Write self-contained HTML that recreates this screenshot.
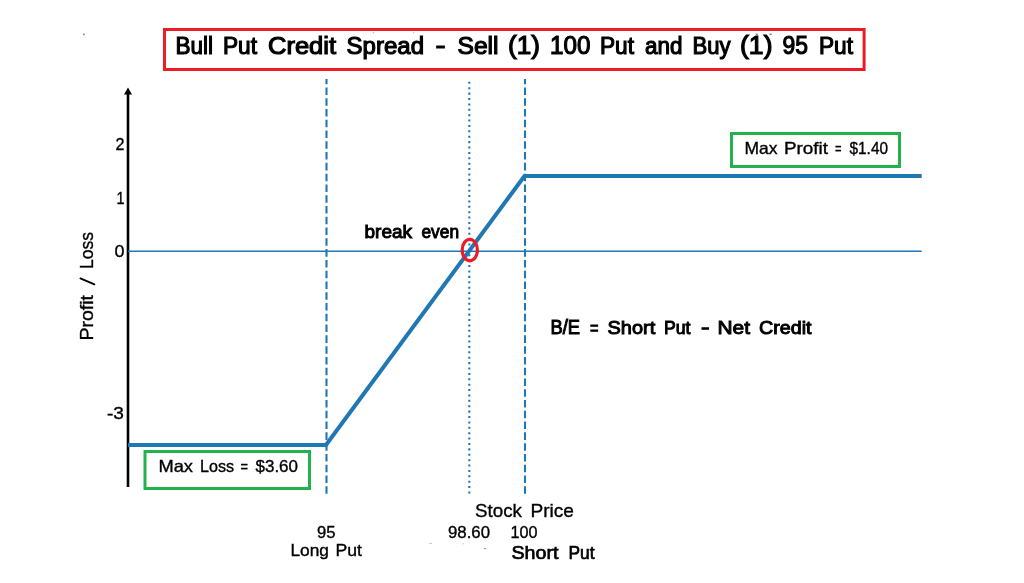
<!DOCTYPE html>
<html><head><meta charset="utf-8">
<style>
html,body{margin:0;padding:0;background:#fff;width:1024px;height:583px;overflow:hidden}
svg{display:block}
text{font-family:"Liberation Sans",sans-serif;fill:#000;stroke:#000;stroke-width:0.35px}
.b{stroke-width:0.85px}
svg{will-change:transform}

</style></head><body>
<svg width="1024" height="583" viewBox="0 0 1024 583">
<rect x="0" y="0" width="1024" height="583" fill="#fff"/>
<rect x="83" y="33.5" width="1.6" height="1.6" fill="#888"/>
<rect x="755.8" y="33.6" width="2" height="1.3" fill="#777"/>
<rect x="769.5" y="33.6" width="2.2" height="1.3" fill="#777"/>
<rect x="372.8" y="32" width="1.2" height="1.2" fill="#bbb"/>
<rect x="413" y="32" width="1.2" height="1.2" fill="#bbb"/>
<rect x="429" y="543" width="3" height="1" fill="#ccc"/>
<rect x="462.5" y="543.3" width="1.5" height="1" fill="#ccc"/>
<rect x="484" y="548" width="2" height="1.2" fill="#999"/>
<rect x="164.5" y="29.5" width="699.6" height="40" fill="none" stroke="#ed1c24" stroke-width="3"/>
<line x1="128" y1="93" x2="128" y2="487" stroke="#000" stroke-width="2.6"/>
<polygon points="128,87.5 124,94.5 132,94.5" fill="#000"/>
<line x1="128" y1="251.2" x2="921.7" y2="251.2" stroke="#1f77b4" stroke-width="1.5"/>
<line x1="326.5" y1="493.8" x2="326.5" y2="79" stroke="#1f77b4" stroke-width="2.1" stroke-dasharray="7.53 3.25"/>
<line x1="525" y1="493.8" x2="525" y2="79" stroke="#1f77b4" stroke-width="2.1" stroke-dasharray="7.53 3.25"/>
<line x1="469.3" y1="493.5" x2="469.3" y2="79" stroke="#1f77b4" stroke-width="2.1" stroke-dasharray="2.03 3.36"/>
<polyline points="128,445 326,445 524.5,176 921.7,176" fill="none" stroke="#1f77b4" stroke-width="4" stroke-linejoin="miter"/>
<ellipse cx="469.8" cy="250.1" rx="7.6" ry="10.7" fill="none" stroke="#ed1c24" stroke-width="3.2"/>
<rect x="731.5" y="133.5" width="168" height="33" fill="#fff" stroke="#22b14c" stroke-width="3"/>
<rect x="145" y="451.5" width="164.5" height="37" fill="#fff" stroke="#22b14c" stroke-width="3"/>
<text style="stroke-width:1.15px" x="175.5" y="54.2" font-size="23.5" textLength="37.5" lengthAdjust="spacingAndGlyphs">Bull</text>
<text style="stroke-width:1.15px" x="223.0" y="54.2" font-size="23.5" textLength="34.0" lengthAdjust="spacingAndGlyphs">Put</text>
<text style="stroke-width:1.15px" x="268.0" y="54.2" font-size="23.5" textLength="68.0" lengthAdjust="spacingAndGlyphs">Credit</text>
<text style="stroke-width:1.15px" x="346.5" y="54.2" font-size="23.5" textLength="77.5" lengthAdjust="spacingAndGlyphs">Spread</text>
<text style="stroke-width:1.15px" x="435.5" y="54.2" font-size="25" textLength="10.0" lengthAdjust="spacingAndGlyphs">-</text>
<text style="stroke-width:1.15px" x="457.5" y="54.2" font-size="23.5" textLength="41.0" lengthAdjust="spacingAndGlyphs">Sell</text>
<text style="stroke-width:1.15px" x="508.0" y="54.2" font-size="25" textLength="32.0" lengthAdjust="spacingAndGlyphs">(1)</text>
<text style="stroke-width:1.15px" x="550.0" y="54.2" font-size="25" textLength="40.5" lengthAdjust="spacingAndGlyphs">100</text>
<text style="stroke-width:1.15px" x="600.0" y="54.2" font-size="23.5" textLength="34.0" lengthAdjust="spacingAndGlyphs">Put</text>
<text style="stroke-width:1.15px" x="645.0" y="54.2" font-size="23.5" textLength="37.5" lengthAdjust="spacingAndGlyphs">and</text>
<text style="stroke-width:1.15px" x="692.5" y="54.2" font-size="23.5" textLength="38.0" lengthAdjust="spacingAndGlyphs">Buy</text>
<text style="stroke-width:1.15px" x="740.0" y="54.2" font-size="25" textLength="32.5" lengthAdjust="spacingAndGlyphs">(1)</text>
<text style="stroke-width:1.15px" x="782.5" y="54.2" font-size="25" textLength="25.5" lengthAdjust="spacingAndGlyphs">95</text>
<text style="stroke-width:1.15px" x="819.0" y="54.2" font-size="23.5" textLength="34.0" lengthAdjust="spacingAndGlyphs">Put</text>
<text style="stroke-width:1.0px" x="550.5" y="334.4" font-size="19.5" textLength="29.5" lengthAdjust="spacingAndGlyphs">B/E</text>
<text style="stroke-width:1.0px" x="590.0" y="334.4" font-size="19" textLength="8.5" lengthAdjust="spacingAndGlyphs">=</text>
<text style="stroke-width:1.0px" x="607.5" y="334.4" font-size="19" textLength="47.75" lengthAdjust="spacingAndGlyphs">Short</text>
<text style="stroke-width:1.0px" x="664.0" y="334.4" font-size="19" textLength="26.5" lengthAdjust="spacingAndGlyphs">Put</text>
<text style="stroke-width:1.0px" x="701.0" y="334.4" font-size="19" textLength="8.5" lengthAdjust="spacingAndGlyphs">-</text>
<text style="stroke-width:1.0px" x="717.5" y="334.4" font-size="19" textLength="32.5" lengthAdjust="spacingAndGlyphs">Net</text>
<text style="stroke-width:1.0px" x="759.0" y="334.4" font-size="19" textLength="52.5" lengthAdjust="spacingAndGlyphs">Credit</text>
<text style="stroke-width:1.0px" x="364.5" y="237.5" font-size="19" textLength="47.5" lengthAdjust="spacingAndGlyphs">break</text>
<text style="stroke-width:1.0px" x="421.5" y="237.5" font-size="19" textLength="37.5" lengthAdjust="spacingAndGlyphs">even</text>
<text style="stroke-width:0.35px" x="744.5" y="153.9" font-size="16.5" textLength="33.0" lengthAdjust="spacingAndGlyphs">Max</text>
<text style="stroke-width:0.35px" x="784.0" y="153.9" font-size="16.5" textLength="44.0" lengthAdjust="spacingAndGlyphs">Profit</text>
<text style="stroke-width:0.35px" x="835.0" y="153.9" font-size="16.5" textLength="6.5" lengthAdjust="spacingAndGlyphs">=</text>
<text style="stroke-width:0.35px" x="849.5" y="153.9" font-size="17" textLength="38.5" lengthAdjust="spacingAndGlyphs">$1.40</text>
<text style="stroke-width:0.35px" x="158.5" y="472.0" font-size="16.5" textLength="34.5" lengthAdjust="spacingAndGlyphs">Max</text>
<text style="stroke-width:0.35px" x="200.0" y="472.0" font-size="16.5" textLength="34.0" lengthAdjust="spacingAndGlyphs">Loss</text>
<text style="stroke-width:0.35px" x="240.5" y="472.0" font-size="16.5" textLength="7.5" lengthAdjust="spacingAndGlyphs">=</text>
<text style="stroke-width:0.35px" x="255.5" y="472.0" font-size="17" textLength="42.5" lengthAdjust="spacingAndGlyphs">$3.60</text>
<text style="stroke-width:0.35px" x="475.0" y="517.0" font-size="19" textLength="47.0" lengthAdjust="spacingAndGlyphs">Stock</text>
<text style="stroke-width:0.35px" x="530.5" y="517.0" font-size="19" textLength="43.5" lengthAdjust="spacingAndGlyphs">Price</text>
<text style="stroke-width:0.35px" x="317.0" y="538.0" font-size="17" textLength="18.5" lengthAdjust="spacingAndGlyphs">95</text>
<text style="stroke-width:0.35px" x="448.0" y="538.0" font-size="17" textLength="42.0" lengthAdjust="spacingAndGlyphs">98.60</text>
<text style="stroke-width:0.35px" x="510.5" y="538.0" font-size="17" textLength="27.0" lengthAdjust="spacingAndGlyphs">100</text>
<text style="stroke-width:0.35px" x="290.5" y="556.1" font-size="16.5" textLength="38.5" lengthAdjust="spacingAndGlyphs">Long</text>
<text style="stroke-width:0.35px" x="335.5" y="556.1" font-size="16.5" textLength="26.5" lengthAdjust="spacingAndGlyphs">Put</text>
<text style="stroke-width:0.7px" x="511.5" y="559.0" font-size="18" textLength="47.0" lengthAdjust="spacingAndGlyphs">Short</text>
<text style="stroke-width:0.7px" x="568.5" y="559.0" font-size="18" textLength="26.0" lengthAdjust="spacingAndGlyphs">Put</text>
<text style="stroke-width:0.35px" x="115.5" y="149.8" font-size="17" textLength="9.0" lengthAdjust="spacingAndGlyphs">2</text>
<text style="stroke-width:0.35px" x="116.5" y="203.9" font-size="17" textLength="8.0" lengthAdjust="spacingAndGlyphs">1</text>
<text style="stroke-width:0.35px" x="114.5" y="257.2" font-size="17" textLength="10.0" lengthAdjust="spacingAndGlyphs">0</text>
<text style="stroke-width:0.35px" x="107.0" y="418.8" font-size="17" textLength="17.0" lengthAdjust="spacingAndGlyphs">-3</text>
<g transform="translate(93.4,339.6) rotate(-90)">
<text x="-1.0" y="0" font-size="19" textLength="45.5" lengthAdjust="spacingAndGlyphs">Profit</text>
<text x="70.5" y="0" font-size="19" textLength="37.0" lengthAdjust="spacingAndGlyphs">Loss</text>
</g>
<line x1="80.4" y1="278.4" x2="94.4" y2="284.4" stroke="#000" stroke-width="1.8" stroke-linecap="round"/>
</svg>
</body></html>
